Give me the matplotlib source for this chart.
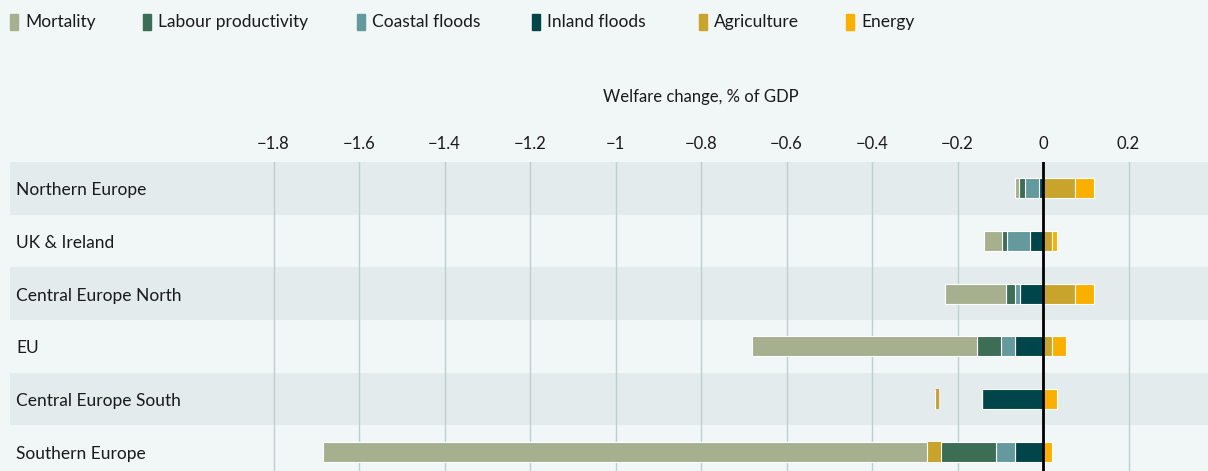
import numpy as np
import matplotlib.pyplot as plt
from matplotlib.patches import Rectangle

plt.rcParams['font.family'] = ['Lato', 'DejaVu Sans']

regions = ['Northern Europe', 'UK & Ireland', 'Central Europe North', 'EU',
           'Central Europe South', 'Southern Europe']

# welfare change, % of GDP
mortality = [-0.010, -0.043, -0.142, -0.526, 0.0, -1.414]
labour = [-0.012, -0.011, -0.021, -0.055, 0.0, -0.129]
coastal = [-0.033, -0.054, -0.012, -0.033, 0.0, -0.043]
inland = [-0.010, -0.031, -0.054, -0.066, -0.142, -0.066]
agri_neg = [0.0, 0.0, 0.0, 0.0, -0.009, -0.033]
agri_gap = [0.0, 0.0, 0.0, 0.0, -0.101, 0.0]   # empty stretch before the sliver in CE South
agri_pos = [0.0755, 0.020, 0.0755, 0.020, 0.0, 0.0]
energy = [0.044, 0.012, 0.044, 0.034, 0.032, 0.020]

ticks = [-1.8, -1.6, -1.4, -1.2, -1, -0.8, -0.6, -0.4, -0.2, 0, 0.2]
tick_labels = ['\u22121.8', '\u22121.6', '\u22121.4', '\u22121.2', '\u22121', '\u22120.8',
               '\u22120.6', '\u22120.4', '\u22120.2', '0', '0.2']

series_names = ['Mortality', 'Labour productivity', 'Coastal floods', 'Inland floods',
                'Agriculture', 'Energy']
colors = ['#a7b08e', '#3c6e55', '#64999e', '#00454a', '#c9a42c', '#f9b000']
bg = '#f1f6f6'
band = '#e3ebec'

fig = plt.figure(figsize=(12.08, 4.71), dpi=100)
fig.patch.set_facecolor(bg)
ax = fig.add_axes([10 / 1208, -7 / 471, 1198 / 1208, 316 / 471])
ax.set_facecolor(bg)

y = np.arange(len(regions))
for i in y:
    if i % 2 == 0:
        ax.axhspan(i - 0.5, i + 0.5, color=band, zorder=0, lw=0)

h = 0.38
kw = dict(height=h, edgecolor='white', linewidth=0.8, zorder=3)

# negative side, stacked outwards from zero
left = np.zeros(len(regions))
for vals, col in [(inland, colors[3]), (coastal, colors[2]), (labour, colors[1])]:
    v = np.array(vals)
    ax.barh(y, v, left=left, color=col, **kw)
    left += v
left += np.array(agri_gap)
v = np.array(agri_neg)
ax.barh(y, v, left=left, color=colors[4], height=h, edgecolor='none', zorder=3)
left += v
ax.barh(y, mortality, left=left, color=colors[0], **kw)

# positive side
right = np.zeros(len(regions))
for vals, col in [(agri_pos, colors[4]), (energy, colors[5])]:
    v = np.array(vals)
    ax.barh(y, v, left=right, color=col, **kw)
    right += v

for t in ticks:
    if t != 0:
        ax.axvline(t, color='#bccfd1', lw=1, zorder=1)
ax.axvline(0, color='black', lw=2, zorder=5)

ax.set_xlim((10 - 1043) / 427.5, (1208 - 1043) / 427.5)
ax.set_ylim(len(regions) - 0.5, -0.5)
ax.xaxis.tick_top()
ax.set_xticks(ticks)
ax.set_xticklabels(tick_labels, fontsize=12, color='#1a1a1a')
ax.tick_params(axis='x', length=0, pad=7)
ax.set_yticks([])
for s in ax.spines.values():
    s.set_visible(False)

for i, r in enumerate(regions):
    ax.text(0.005, i + 0.04, r, transform=ax.get_yaxis_transform(), va='center', ha='left',
            fontsize=12.5, color='#1a1a1a', zorder=6)

fig.text(701 / 1208, 1 - 97 / 471, 'Welfare change, % of GDP', ha='center', va='center',
         fontsize=12, color='#1a1a1a')

# legend
leg_x = [10, 143, 357, 532, 699, 846]
for name, col, x in zip(series_names, colors, leg_x):
    fig.patches.append(Rectangle((x / 1208, 1 - 30 / 471), 8 / 1208, 16 / 471,
                                 transform=fig.transFigure, color=col))
    fig.text((x + 15) / 1208, 1 - 22 / 471, name, ha='left', va='center',
             fontsize=12.5, color='#1a1a1a')

fig.savefig('out.png', dpi=100, facecolor=bg)
